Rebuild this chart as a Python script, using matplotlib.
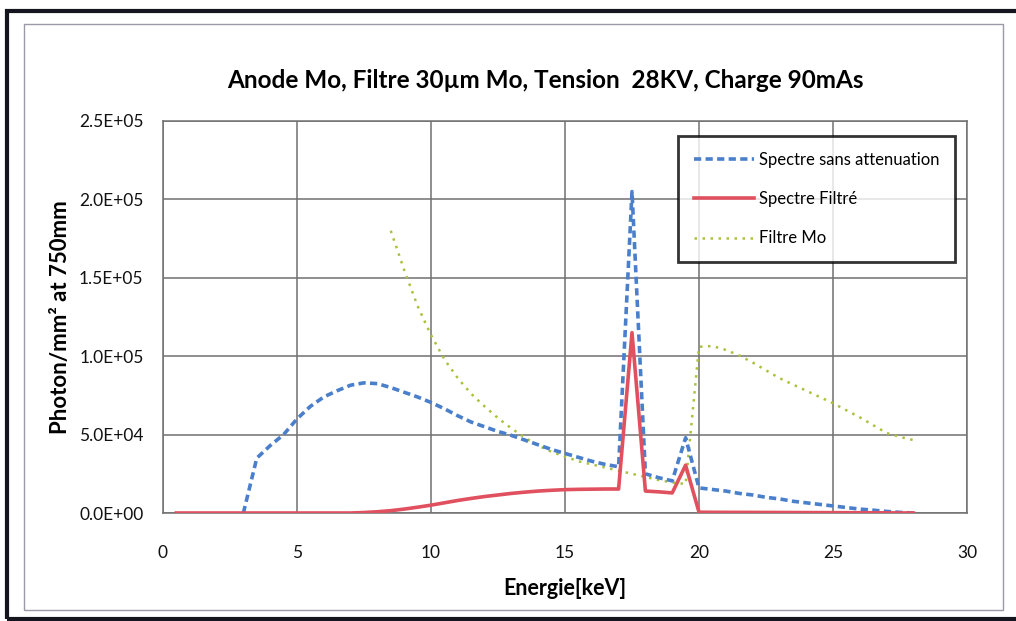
import matplotlib.pyplot as plt
from matplotlib.patches import Rectangle

plt.rcParams['font.family'] = ['Lato', 'DejaVu Sans']

# energy grid (keV)
energy = [i * 0.5 for i in range(1, 57)]  # 0.5 .. 28

# Spectre sans attenuation, from 3 keV
e_raw = [i * 0.5 for i in range(6, 57)]
raw = [0, 35000, 43000, 50000, 60000, 68000, 74000, 78000, 81500, 83000,
       82500, 80000, 77000, 74000, 70500, 66500, 62000, 58000, 55000, 52000,
       49500, 46500, 43500, 40500, 38000, 35500, 33000, 31000, 29500, 205000,
       25000, 22500, 20500, 48000, 16000, 15000, 14000, 12500, 11500, 10000,
       9000, 7500, 6500, 5500, 4500, 3500, 2500, 1800, 1000, 400, 0]

# Spectre filtre, from 0.5 keV
filtered = [0] * 14 + [300, 800, 1500, 2500, 3700, 5000, 6500, 8000, 9300,
            10500, 11500, 12500, 13300, 14000, 14500, 14900, 15100, 15200,
            15300, 15300, 115000, 14000, 13500, 12800, 30500, 500, 450, 420,
            400, 380, 350, 320, 300, 270, 250, 220, 200, 170, 150, 100, 50, 0]

# Filtre Mo, from 8.5 keV
e_mo = [i * 0.5 for i in range(17, 57)]
filtre_mo = [180000, 155000, 132000, 113500, 98000, 86000, 76000, 68000,
             60500, 54000, 48000, 43000, 39000, 36000, 33000, 31000, 29000,
             27000, 25000, 23000, 21000, 19500, 18500, 106000, 106500, 104000,
             100500, 96000, 91000, 86000, 82000, 78000, 74000, 70000, 65500,
             61000, 56000, 51000, 48500, 46500]

fig = plt.figure(figsize=(10.16, 6.21), dpi=100)
ax = fig.add_axes([0.1604, 0.1739, 0.7914, 0.6313])

ax.plot(e_raw, raw, color='#4a7fcb', lw=2.6, ls=(0, (2.0, 1.2)),
        label='Spectre sans attenuation', zorder=3)
ax.plot(energy, filtered, color='#e0505f', lw=2.6,
        label='Spectre Filtré', zorder=4)
ax.plot(e_mo, filtre_mo, color='#a8c23c', lw=1.8, ls=(0, (1, 2.2)),
        label='Filtre Mo', zorder=2)

ax.set_xlim(0, 30)
ax.set_ylim(0, 250000)
ax.set_xticks(range(0, 31, 5))
ax.set_yticks([i * 50000 for i in range(6)])
ax.set_yticklabels(['0.0E+00', '5.0E+04', '1.0E+05', '1.5E+05', '2.0E+05', '2.5E+05'])
ax.grid(True, color='#707070', lw=1.1)
ax.set_axisbelow(True)
for s in ax.spines.values():
    s.set_color('#707070')
    s.set_linewidth(1.1)
ax.tick_params(length=0, labelsize=12.5, colors='#111111')
ax.tick_params(axis='x', pad=23)
ax.tick_params(axis='y', pad=14)

fig.text(545 / 1016, 1 - 80 / 621,
         'Anode Mo, Filtre 30µm Mo, Tension  28KV, Charge 90mAs',
         fontsize=17.5, fontweight='bold', ha='center', va='center')
ax.set_xlabel('Energie[keV]', fontsize=15.5, fontweight='bold', labelpad=12)
ax.set_ylabel('Photon/mm² at 750mm', fontsize=16, fontweight='bold', labelpad=6)

leg = ax.legend(loc='upper right', bbox_to_anchor=(0.985, 0.962), fontsize=12,
                frameon=True, fancybox=False, handlelength=3.6, labelspacing=1.4,
                borderpad=0.95, handletextpad=0.3, borderaxespad=0)
leg.get_frame().set_edgecolor('black')
leg.get_frame().set_linewidth(2)

# scanned page frames
fig.add_artist(Rectangle((24 / 1016, 1 - 610 / 621), 979 / 1016, 586 / 621,
                         transform=fig.transFigure, fill=False,
                         edgecolor='#9a9aa8', lw=1))
fig.add_artist(Rectangle((7 / 1016, 1 - 619 / 621), 1.2, 608 / 621,
                         transform=fig.transFigure, fill=False,
                         edgecolor='#151520', lw=3))

fig.savefig('out.png', dpi=100)
